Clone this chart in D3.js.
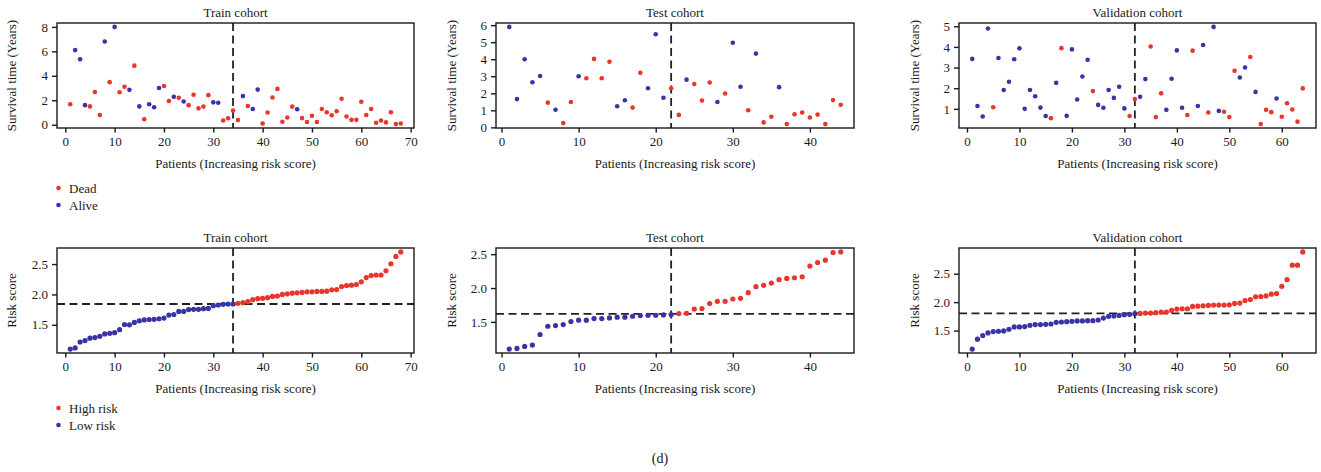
<!DOCTYPE html>
<html>
<head>
<meta charset="utf-8">
<script src="https://cdn.jsdelivr.net/npm/d3@7"></script>
<style>
  html, body { margin: 0; padding: 0; background: #fff; }
  svg text { font-family: "Liberation Serif", "DejaVu Serif", serif; fill: #1a1a1a; }
</style>
</head>
<body>
<svg id="chart" width="1321" height="472"></svg>
<script>
// ---- Survival time (years) per patient, ordered by increasing risk score ----
const trainSurvival = [1.68, 6.1, 5.35, 1.6, 1.5, 2.67, 0.8, 6.8, 3.48, 8.0, 2.65, 3.1, 2.85, 4.83, 1.5, 0.45, 1.67, 1.43, 3.0, 3.17,
  1.94, 2.28, 2.2, 1.9, 1.6, 2.45, 1.34, 1.48, 2.42, 1.83, 1.8, 0.35, 0.53, 1.16, 0.38, 2.34, 1.53, 1.29, 2.87, 0.1,
  1.0, 2.23, 2.93, 0.24, 0.59, 1.48, 1.26, 0.54, 0.22, 0.73, 0.22, 1.29, 1.02, 0.78, 1.1, 2.12, 0.67, 0.4, 0.4, 1.88,
  0.8, 1.29, 0.16, 0.35, 0.19, 1.02, 0.05, 0.1];
// 1 = dead, 0 = alive
const trainStatus = [1, 0, 0, 0, 1, 1, 1, 0, 1, 0, 1, 1, 0, 1, 0, 1, 0, 0, 0, 1,
  1, 0, 1, 0, 1, 1, 1, 1, 1, 0, 0, 1, 1, 1, 1, 0, 1, 0, 0, 1,
  1, 1, 1, 1, 1, 1, 0, 1, 1, 1, 1, 1, 1, 1, 1, 1, 1, 1, 1, 1,
  1, 1, 1, 1, 1, 1, 1, 1];

const testSurvival = [5.9, 1.66, 4.0, 2.65, 3.02, 1.45, 1.03, 0.25, 1.49, 3.0, 2.88, 4.02, 2.88, 3.85, 1.24, 1.59, 1.16, 3.21, 2.3, 5.47,
  1.74, 2.3, 0.73, 2.8, 2.55, 1.57, 2.63, 1.49, 1.99, 4.97, 2.38, 1.0, 4.33, 0.29, 0.62, 2.36, 0.19, 0.77, 0.87, 0.58,
  0.75, 0.19, 1.6, 1.33];
const testStatus = [0, 0, 0, 0, 0, 1, 0, 1, 1, 0, 1, 1, 1, 1, 0, 0, 1, 1, 0, 0,
  0, 1, 1, 0, 1, 1, 1, 0, 1, 0, 0, 1, 0, 1, 1, 0, 1, 1, 1, 1,
  1, 1, 1, 1];

const validSurvival = [3.42, 1.14, 0.63, 4.89, 1.08, 3.46, 1.91, 2.31, 3.4, 3.93, 1.0, 1.91, 1.61, 1.06, 0.65, 0.55, 2.26, 3.94, 0.66, 3.88,
  1.45, 2.57, 3.38, 1.86, 1.19, 1.05, 1.91, 1.53, 2.07, 1.02, 0.65, 1.48, 1.58, 2.44, 4.02, 0.6, 1.75, 0.95, 2.46, 3.83,
  1.05, 0.7, 3.82, 1.14, 4.09, 0.82, 4.97, 0.9, 0.86, 0.6, 2.84, 2.52, 3.0, 3.51, 1.82, 0.26, 0.95, 0.84, 1.5, 0.62,
  1.27, 0.97, 0.38, 1.99];
const validStatus = [0, 0, 0, 0, 1, 0, 0, 0, 0, 0, 0, 0, 0, 0, 0, 1, 0, 1, 0, 0,
  0, 0, 0, 1, 0, 0, 0, 0, 0, 0, 1, 1, 0, 0, 1, 1, 1, 0, 0, 0,
  0, 1, 1, 0, 0, 1, 0, 0, 1, 1, 1, 0, 0, 1, 0, 1, 1, 1, 0, 1,
  1, 1, 1, 1];

// ---- Risk scores, sorted ascending ----
const trainRisk = [1.10, 1.12, 1.217, 1.24, 1.28, 1.29, 1.31, 1.35, 1.36, 1.37, 1.42, 1.505, 1.50, 1.54, 1.565, 1.58, 1.587, 1.59, 1.60, 1.61,
  1.66, 1.67, 1.72, 1.72, 1.75, 1.755, 1.755, 1.766, 1.77, 1.815, 1.826, 1.837, 1.842, 1.842, 1.853, 1.864, 1.88, 1.913, 1.93, 1.935,
  1.946, 1.967, 1.973, 2.0, 2.01, 2.02, 2.027, 2.033, 2.043, 2.043, 2.05, 2.05, 2.054, 2.076, 2.08, 2.13, 2.147, 2.152, 2.163, 2.207,
  2.277, 2.31, 2.32, 2.32, 2.39, 2.505, 2.625, 2.70];
const testRisk = [1.098, 1.108, 1.137, 1.157, 1.314, 1.436, 1.446, 1.461, 1.505, 1.525, 1.525, 1.549, 1.549, 1.559, 1.569, 1.569, 1.583, 1.593, 1.598, 1.598,
  1.603, 1.608, 1.623, 1.627, 1.69, 1.696, 1.77, 1.804, 1.804, 1.838, 1.848, 1.931, 2.02, 2.04, 2.074, 2.123, 2.142, 2.152, 2.167, 2.324,
  2.377, 2.412, 2.525, 2.534];
const validRisk = [1.174, 1.349, 1.413, 1.459, 1.483, 1.488, 1.494, 1.523, 1.564, 1.564, 1.57, 1.593, 1.605, 1.605, 1.61, 1.616, 1.645, 1.651, 1.657, 1.663,
  1.669, 1.669, 1.674, 1.674, 1.686, 1.72, 1.75, 1.756, 1.767, 1.779, 1.785, 1.797, 1.802, 1.808, 1.808, 1.814, 1.826, 1.826, 1.855, 1.878,
  1.884, 1.884, 1.924, 1.93, 1.936, 1.942, 1.948, 1.948, 1.948, 1.953, 1.977, 1.983, 2.029, 2.047, 2.093, 2.099, 2.11, 2.14, 2.151, 2.279,
  2.395, 2.651, 2.651, 2.884];

// number of low-risk patients (position of the vertical split) and risk cut-off value
const splitIndex = [34, 22, 32];
const riskCutoff = [1.842, 1.618, 1.802];

const cohortTitles = ["Train cohort", "Test cohort", "Validation cohort"];
const xTickValues = [[0, 10, 20, 30, 40, 50, 60, 70], [0, 10, 20, 30, 40], [0, 10, 20, 30, 40, 50, 60]];
const survivalTicks = [[0, 2, 4, 6, 8], [0, 1, 2, 3, 4, 5, 6], [1, 2, 3, 4, 5]];
const riskTicks = [[1.5, 2.0, 2.5], [1.5, 2.0, 2.5], [1.5, 2.0, 2.5]];
const statusLegend = ["Dead", "Alive"];
const riskLegend = ["High risk", "Low risk"];

const survivalSets = [trainSurvival, testSurvival, validSurvival];
const statusSets = [trainStatus, testStatus, validStatus];
const riskSets = [trainRisk, testRisk, validRisk];

const RED = "#e8362c";
const BLUE = "#3a33a6";
const INK = "#1a1a1a";

const svg = d3.select("#chart");

// panel frames: [left, right] per column, [top, bottom] per row
const cols = [[57, 414], [496, 854], [959, 1316]];
const rows = [[23, 128], [248, 353]];
const yLabelX = [16, 456, 919];

// R-style axis extent: data range widened by 4% on each side
function padded(lo, hi) {
  const p = (hi - lo) * 0.04;
  return [lo - p, hi + p];
}

function panel(col, row, values, isRed, yTicks, yFmt, yLabel, opts) {
  const [x0, x1] = cols[col];
  const [y0, y1] = rows[row];
  const n = values.length;
  const x = d3.scaleLinear().domain(padded(1, n)).range([x0, x1]);
  const y = d3.scaleLinear().domain(padded(d3.min(values), d3.max(values))).range([y1, y0]);
  const g = svg.append("g");

  // axes
  const xa = g.append("g").attr("transform", `translate(0,${y1})`)
    .call(d3.axisBottom(x).tickValues(xTickValues[col]).tickSize(4.5).tickPadding(4).tickFormat(d3.format("d")));
  const ya = g.append("g").attr("transform", `translate(${x0},0)`)
    .call(d3.axisLeft(y).tickValues(yTicks).tickSize(5).tickPadding(4).tickFormat(yFmt));
  [xa, ya].forEach(a => {
    a.select(".domain").remove();
    a.selectAll(".tick line").attr("stroke", INK).attr("stroke-width", 1.4);
    a.selectAll(".tick text").attr("font-size", 13).attr("fill", INK)
      .style("font-family", '"Liberation Serif", serif');
  });

  // cut-off lines
  const dash = "8,4.5";
  g.append("line")
    .attr("x1", x(splitIndex[col])).attr("x2", x(splitIndex[col]))
    .attr("y1", y0).attr("y2", y1)
    .attr("stroke", "#222").attr("stroke-width", 1.8).attr("stroke-dasharray", dash);
  if (opts.hCut !== undefined) {
    g.append("line")
      .attr("x1", x0).attr("x2", x1)
      .attr("y1", y(opts.hCut)).attr("y2", y(opts.hCut))
      .attr("stroke", "#222").attr("stroke-width", 1.8).attr("stroke-dasharray", dash);
  }

  // points
  g.append("g").selectAll("circle")
    .data(values)
    .join("circle")
    .attr("cx", (d, i) => x(i + 1))
    .attr("cy", d => y(d))
    .attr("r", opts.r)
    .attr("fill", (d, i) => isRed(i) ? RED : BLUE);

  // frame
  g.append("rect")
    .attr("x", x0).attr("y", y0).attr("width", x1 - x0).attr("height", y1 - y0)
    .attr("fill", "none").attr("stroke", INK).attr("stroke-width", 1.4);

  // title and axis labels
  g.append("text").attr("x", (x0 + x1) / 2).attr("y", y0 - 6.5)
    .attr("text-anchor", "middle").attr("font-size", 13).text(cohortTitles[col]);
  g.append("text").attr("x", (x0 + x1) / 2).attr("y", y1 + 40)
    .attr("text-anchor", "middle").attr("font-size", 13).text("Patients (Increasing risk score)");
  g.append("text")
    .attr("transform", `translate(${yLabelX[col]},${(y0 + y1) / 2}) rotate(-90)`)
    .attr("text-anchor", "middle").attr("font-size", 13).text(yLabel);
}

for (let c = 0; c < 3; c++) {
  const st = statusSets[c];
  panel(c, 0, survivalSets[c], i => st[i] === 1, survivalTicks[c], d3.format("d"),
    "Survival time (Years)", { r: 2.3 });
  panel(c, 1, riskSets[c], i => i >= splitIndex[c], riskTicks[c], d3.format(".1f"),
    "Risk score", { r: 2.6, hCut: riskCutoff[c] });
}

// legends
function legend(y, labels) {
  const colors = [RED, BLUE];
  labels.forEach((lab, i) => {
    svg.append("circle").attr("cx", 58.5).attr("cy", y + i * 17).attr("r", 2.3).attr("fill", colors[i]);
    svg.append("text").attr("x", 69).attr("y", y + i * 17 + 4.5).attr("font-size", 13).text(lab);
  });
}
legend(188, statusLegend);
legend(408, riskLegend);

svg.append("text").attr("x", 660).attr("y", 463).attr("text-anchor", "middle")
  .attr("font-size", 14).text("(d)");
</script>
</body>
</html>
